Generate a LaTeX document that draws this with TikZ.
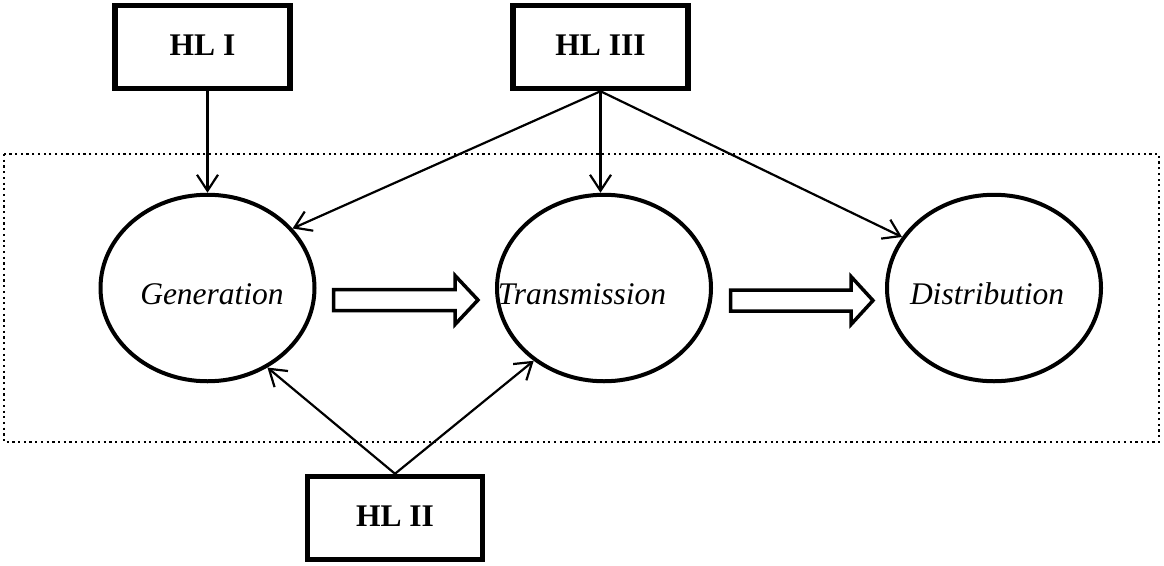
\documentclass[tikz,border=0pt]{standalone}
\usepackage{fontspec}
\setmainfont{Liberation Serif}
\usetikzlibrary{arrows.meta,shapes.geometric}
\begin{document}
\begin{tikzpicture}[x=1pt,y=-1pt,
  hlbox/.style={draw,line width=5.5pt,minimum width=175pt,minimum height=83pt,inner sep=0pt,
    font=\fontsize{31.5}{36}\selectfont\bfseries},
  stage/.style={draw,ellipse,line width=4pt,minimum width=214pt,minimum height=186.5pt,inner sep=0pt},
  lbl/.style={font=\fontsize{31.5}{36}\selectfont\itshape,inner sep=0pt,anchor=base},
  conn/.style={line width=2.2pt,-{Straight Barb[length=16pt,width=21pt,line width=2.2pt]}},
  blockarrow/.style={draw,line width=3.5pt,line join=miter},
  region/.style={draw,line width=2.2pt,dash pattern=on 2.2pt off 3.5pt}]
\useasboundingbox (0,0) rectangle (1164,565);
\draw[region] (4,154) rectangle (1159,442);

\node[hlbox] (hl1) at (202.5,47) {\raisebox{4.5pt}{HL I}};
\node[hlbox] (hl3) at (600.5,47) {\raisebox{4.5pt}{HL III}};
\node[hlbox] (hl2) at (395,518) {\raisebox{4.5pt}{HL II}};

\node[stage] (gen) at (207.5,288) {};
\node[stage] (trans) at (604,288) {};
\node[stage] (dist) at (994,288) {};

\node[lbl] (tgen) at (212,304) {Generation};
\node[lbl] (ttrans) at (582,304) {Transmission};
\node[lbl] (tdist) at (987,304) {Distribution};

\draw[blockarrow] (333.5,289.5) -- (455,289.5) -- (455,275.5) -- (478,300) -- (455,324.5) -- (455,310.5) -- (333.5,310.5) -- cycle;
\draw[blockarrow] (730.5,290) -- (851,290) -- (851,276.5) -- (873,300.5) -- (851,324.5) -- (851,311) -- (730.5,311) -- cycle;

\draw[conn] (gen.north |- hl1.south) -- (gen.north);
\draw[conn] (hl3.south) -- (hl3.south |- trans.north);
\draw[conn] (hl3.south) -- (gen.35);
\draw[conn] (hl3.south) -- (dist.151);
\draw[conn] (hl2.north) -- (gen.-53);
\draw[conn] (hl2.north) -- (trans.-134.6);
\end{tikzpicture}
\end{document}
